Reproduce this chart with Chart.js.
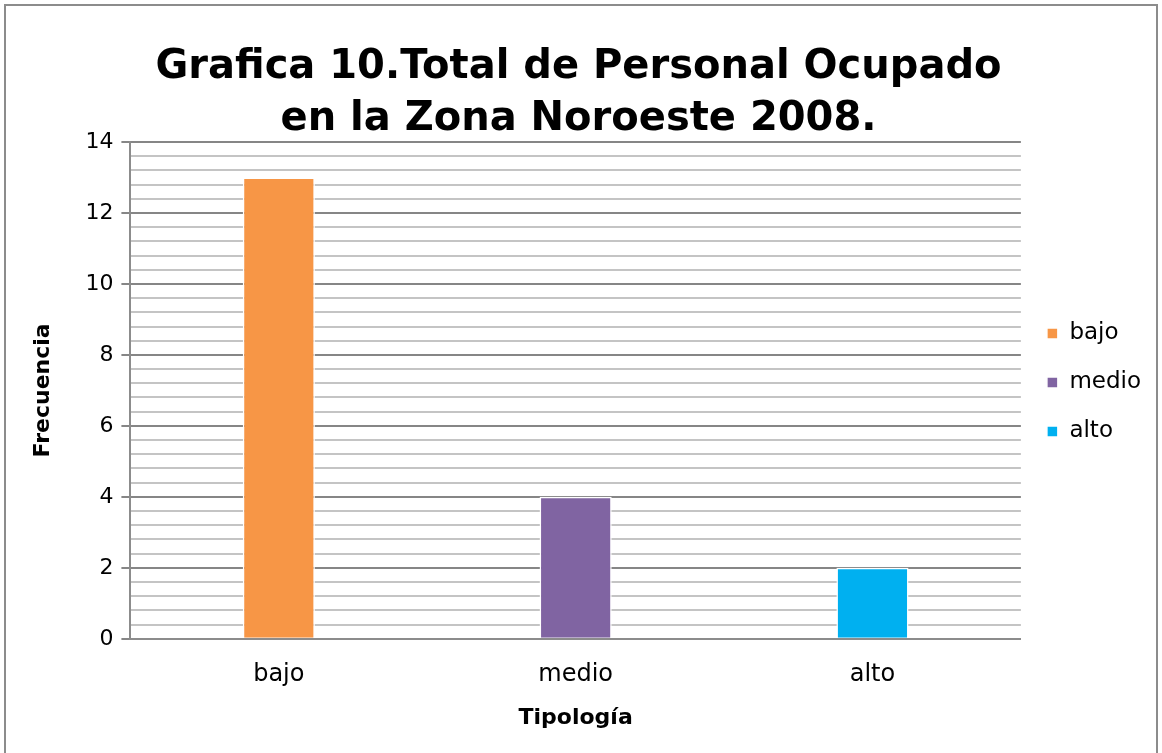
<!DOCTYPE html>
<html>
<head>
<meta charset="utf-8">
<script src="https://cdn.jsdelivr.net/npm/chart.js@4"></script>
<style>
  html, body { margin: 0; padding: 0; background: #fff; }
  #wrap { position: relative; width: 1162px; height: 753px; }
  #marco { position: absolute; left: 4px; top: 4px; width: 1154px; height: 760px; border: 2px solid #8c8c8c; box-sizing: border-box; pointer-events: none; }
</style>
</head>
<body>
<div id="wrap">
  <canvas id="grafica" width="1162" height="753"></canvas>
  <div id="marco"></div>
</div>
<script>
// Datos de la gráfica
const categorias = ['bajo', 'medio', 'alto'];
const frecuencias = [13, 4, 2];
const colores = ['#F79646', '#8064A2', '#00B0F0'];
const titulo = ['Grafica 10.Total de Personal Ocupado', 'en la Zona Noroeste 2008.'];

const fuente = '"DejaVu Sans", sans-serif';

function esMayor(v) {
    return Math.abs(v / 2 - Math.round(v / 2)) < 1e-6;
}

// una serie por tipología, cada una solo en su categoría (como "variar colores por punto")
const series = categorias.map((cat, i) => ({
    label: cat,
    data: categorias.map((c, j) => (j === i ? frecuencias[i] : null)),
    backgroundColor: colores[i],
    borderColor: '#ffffff',
    borderWidth: 1.5,
    barPercentage: 0.243,
    categoryPercentage: 1
}));

// sube un poco la leyenda (en el original queda algo por encima del centro)
const subirLeyenda = {
    id: 'subirLeyenda',
    afterLayout(chart) {
        if (chart.legend) {
            chart.legend.top -= 6;
            chart.legend.bottom -= 6;
        }
    }
};

const ctx = document.getElementById('grafica').getContext('2d');
new Chart(ctx, {
    type: 'bar',
    data: { labels: categorias, datasets: series },
    plugins: [subirLeyenda],
    options: {
        responsive: false,
        animation: false,
        skipNull: true,
        layout: { padding: { left: 6, right: 11, top: 42, bottom: 18 } },
        plugins: {
            title: {
                display: true,
                text: titulo,
                color: '#000',
                font: { family: fuente, size: 40, weight: 'bold', lineHeight: 1.3 },
                padding: { top: 0, bottom: -4 }
            },
            legend: {
                position: 'right',
                labels: {
                    color: '#000',
                    font: { family: fuente, size: 23 },
                    boxWidth: 11,
                    boxHeight: 11,
                    padding: 26
                }
            },
            tooltip: { enabled: false }
        },
        scales: {
            x: {
                grid: { display: false },
                border: { display: true, color: '#8c8c8c', width: 2 },
                ticks: { color: '#000', font: { family: fuente, size: 24 }, padding: 14 },
                title: { display: true, text: 'Tipología', color: '#000', font: { family: fuente, size: 22, weight: 'bold' }, padding: { top: 1 } }
            },
            y: {
                min: 0,
                max: 14,
                ticks: {
                    stepSize: 0.4,
                    autoSkip: false,
                    color: '#000',
                    font: { family: fuente, size: 22 },
                    padding: 8,
                    callback: v => (esMayor(v) ? Math.round(v) : '')
                },
                grid: {
                    color: c => (esMayor(c.tick.value) ? '#868686' : '#c4c4c4'),
                    lineWidth: 2,
                    tickLength: 9,
                    tickColor: c => (esMayor(c.tick.value) ? '#868686' : 'rgba(0,0,0,0)')
                },
                border: { display: true, color: '#8c8c8c', width: 2 },
                title: { display: true, text: 'Frecuencia', color: '#000', font: { family: fuente, size: 22, weight: 'bold' }, padding: { top: 24, bottom: 21 } }
            }
        }
    }
});
</script>
</body>
</html>
